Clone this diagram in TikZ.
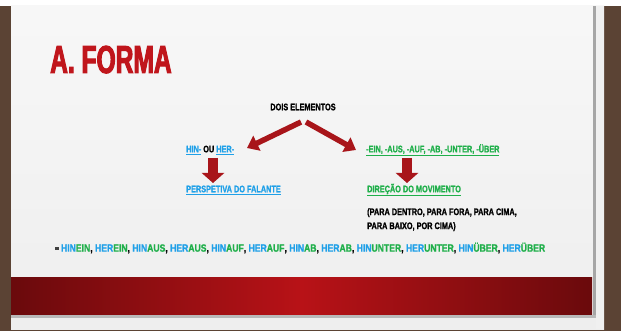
\documentclass[tikz,border=0pt]{standalone}
\usepackage{fontspec}
\newfontfamily\slidefont[FakeStretch=0.77,FakeBold=1.2]{Liberation Sans}
\newfontfamily\listfont[FakeStretch=0.82,FakeBold=1.2]{Liberation Sans}
\newfontfamily\titlefont[FakeStretch=0.63,FakeBold=2.5]{Liberation Sans}
\usetikzlibrary{arrows.meta,positioning}
\usepackage{xcolor}
\definecolor{slidered}{HTML}{C0161C}
\definecolor{arrowred}{HTML}{A8151A}
\definecolor{hinblue}{HTML}{1FA0E8}
\definecolor{sufgreen}{HTML}{1FAF4A}
\definecolor{brick}{HTML}{5B4334}
\definecolor{paper}{HTML}{EEEEEE}
\definecolor{banddark}{HTML}{6A0A0C}
\definecolor{bandmid}{HTML}{B81217}
\newcommand{\hv}[2]{\textcolor{hinblue}{#1}\textcolor{sufgreen}{#2}}
\tikzset{lbl/.style={font=\slidefont\bfseries\fontsize{9.5}{14}\selectfont,inner sep=0pt}, listlbl/.style={font=\listfont\bfseries\fontsize{10.5}{14}\selectfont,inner sep=0pt}, bigarrow/.style={arrowred,line width=5.5pt,-{Triangle[length=11pt,width=16pt]}},downarrow/.style={arrowred,line width=10pt,-{Triangle[length=10pt,width=22pt]}}}

\begin{document}
\begin{tikzpicture}[x=1pt,y=-1pt]
\useasboundingbox (0,0) rectangle (621,331);
% frame and slide
\fill[brick] (0,6) rectangle (621,331);
\fill[white] (0,0) rectangle (621,6);
\shade[top color=white!97!black,bottom color=paper] (11,6) rectangle (604,329);
\fill[gray!70] (593,6) rectangle (596,318);
\fill[gray!12] (596,6) rectangle (604,329);
\shade[left color=banddark,right color=banddark,middle color=bandmid] (11,277) rectangle (592,315);
\fill[gray!55] (11,315) rectangle (596,318);
% title
\node[anchor=base west,text=slidered,inner sep=0pt,font=\titlefont\bfseries\fontsize{39}{39}\selectfont] (title) at (50,73) {A. FORMA};
% tree
\node[lbl] (dois) at (303,107) {DOIS ELEMENTOS};
\node[lbl,anchor=west] (hin) at (186,150) {\textcolor{hinblue}{\underline{HIN-}} OU \textcolor{hinblue}{\underline{HER-}}};
\node[lbl,anchor=west,text=sufgreen] (suf) at (366,150) {\underline{-EIN, -AUS, -AUF, -AB, -UNTER, -ÜBER}};
\node[lbl,anchor=west,text=hinblue] (persp) at (186,190) {\underline{PERSPETIVA DO FALANTE}};
\node[lbl,anchor=west,text=sufgreen] (direc) at (367,190) {\underline{DIREÇÃO DO MOVIMENTO}};
\node[lbl,anchor=north west,align=left] (paren) at (367,208) {(PARA DENTRO, PARA FORA, PARA CIMA,\\PARA BAIXO, POR CIMA)};
\node[listlbl,anchor=west] (lista) at (55,248) {\textcolor{black!75}{\rule[2pt]{3.5pt}{2.5pt}}\ \hv{HIN}{EIN}, \hv{HER}{EIN}, \hv{HIN}{AUS}, \hv{HER}{AUS}, \hv{HIN}{AUF}, \hv{HER}{AUF}, \hv{HIN}{AB}, \hv{HER}{AB}, \hv{HIN}{UNTER}, \hv{HER}{UNTER}, \hv{HIN}{ÜBER}, \hv{HER}{ÜBER}};
% arrows
\coordinate (lfrom) at (301,122);
\coordinate (lto) at (247,148);
\coordinate (rfrom) at (306,122);
\coordinate (rto) at (356,150);
\coordinate (hdown) at (213,158);
\coordinate (pup) at (213,183);
\coordinate (sdown) at (407,158);
\coordinate (dup) at (407,183);
\draw[bigarrow] (lfrom) -- (lto);
\draw[bigarrow] (rfrom) -- (rto);
\draw[downarrow] (hdown) -- (pup);
\draw[downarrow] (sdown) -- (dup);
\end{tikzpicture}
\end{document}
